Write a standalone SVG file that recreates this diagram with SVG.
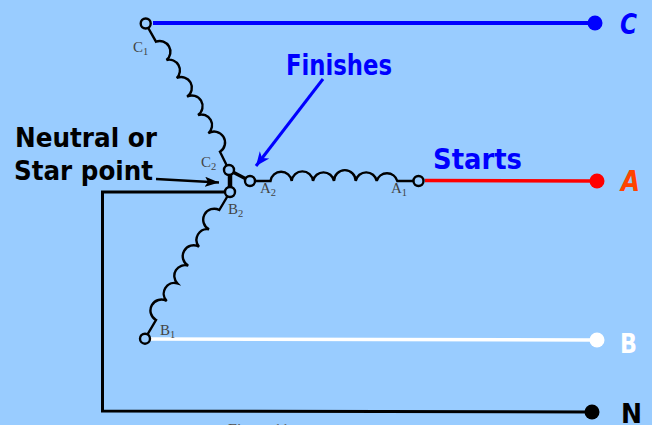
<svg xmlns="http://www.w3.org/2000/svg" width="652" height="425" viewBox="0 0 652 425">
<style>
.wire{fill:none;stroke:#000;stroke-width:2.4}
.thick{fill:none;stroke:#000;stroke-width:3.5}
.term{fill:#99ccff;stroke:#000;stroke-width:2.400}
.lab{font-family:"Liberation Serif",serif;font-size:15px;fill:#444}
.sub{font-size:10.500px}
.hand{font-family:"DejaVu Sans",sans-serif;font-weight:bold}
</style>
<defs>
<marker id="bh" markerUnits="userSpaceOnUse" markerWidth="16" markerHeight="14" refX="14" refY="7" orient="auto"><path d="M0,1L14,7L0,13L4,7Z" fill="#0000ff"/></marker>
<marker id="kh" markerUnits="userSpaceOnUse" markerWidth="16" markerHeight="10" refX="14" refY="5" orient="auto"><path d="M0,0L14,5L0,10L3,5Z" fill="#000"/></marker>
</defs>
<rect width="652" height="425" fill="#99ccff"/>
<g id="connectors">
<path d="M153,23H595" fill="none" stroke="#0000ff" stroke-width="4"/>
<path d="M425,180.500L597,181" fill="none" stroke="#ff0000" stroke-width="3.500"/>
<path d="M150,339L597,340" fill="none" stroke="#fff" stroke-width="3.500"/>
<path d="M225,192H102.500V411L592,412" class="thick" style="stroke-width:3"/>
<path d="M229,170L250,181" class="thick"/>
<path d="M230,170V192" class="thick" style="stroke-width:4.500"/>
<path d="M323,79L256,166" fill="none" stroke="#0000ff" stroke-width="3" marker-end="url(#bh)"/>
<path d="M156,179L219,182.500" fill="none" stroke="#000" stroke-width="2.500" marker-end="url(#kh)"/>
</g>
<g id="coil-c"><path class="wire" d="M146,24L156,41.700A10.700,10.700 0 0 1 166.500,60A10.700,10.700 0 0 1 176.700,78A10.700,10.700 0 0 1 187,96.700A10.700,10.700 0 0 1 198,115A10.700,10.700 0 0 1 208.300,133.300A10.700,10.700 0 0 1 220,151.700L229,170"/></g>
<g id="coil-a"><path class="wire" d="M250,181H270.500A10.700,10.700 0 0 1 291.700,181A10.700,10.700 0 0 1 313,181A10.700,10.700 0 0 1 334,181A10.700,10.700 0 0 1 355.700,181A10.700,10.700 0 0 1 376.700,181A10.700,10.700 0 0 1 397.300,181H418"/></g>
<g id="coil-b"><path class="wire" d="M230,192L219.300,210A10.700,10.700 0 0 0 209,229.300A10.700,10.700 0 0 0 199,246.700A10.700,10.700 0 0 0 188.300,265.700A10.700,10.700 0 0 0 177.300,283.300A10.700,10.700 0 0 0 166.700,301A10.700,10.700 0 0 0 156,320L145,338.700"/></g>
<g id="terminal-c1"><circle class="term" cx="145.700" cy="23.500" r="5"/><text class="lab" x="133" y="52">C<tspan class="sub" dy="2.500">1</tspan></text></g>
<g id="terminal-c2"><circle class="term" cx="229" cy="170" r="5"/><text class="lab" x="201" y="167">C<tspan class="sub" dy="2.500">2</tspan></text></g>
<g id="terminal-a2"><circle class="term" cx="250" cy="181" r="5"/><text class="lab" x="260" y="193">A<tspan class="sub" dy="2.500">2</tspan></text></g>
<g id="terminal-a1"><circle class="term" cx="418.500" cy="181" r="5"/><text class="lab" x="391" y="193">A<tspan class="sub" dy="2.500">1</tspan></text></g>
<g id="terminal-b2"><circle class="term" cx="230" cy="192" r="5"/><text class="lab" x="228" y="214">B<tspan class="sub" dy="2.500">2</tspan></text></g>
<g id="terminal-b1"><circle class="term" cx="145" cy="338.700" r="5"/><text class="lab" x="160" y="335">B<tspan class="sub" dy="2.500">1</tspan></text></g>
<g id="line-c"><circle cx="595" cy="23" r="7.500" fill="#0000ff"/><text class="hand" x="620" y="34" font-size="28" font-style="italic" fill="#0000ff" textLength="17" lengthAdjust="spacingAndGlyphs">C</text></g>
<g id="line-a"><circle cx="597" cy="181" r="7.500" fill="#ff0000"/><text class="hand" x="621" y="191" font-size="29" font-style="italic" fill="#ff4400" textLength="19" lengthAdjust="spacingAndGlyphs">A</text></g>
<g id="line-b"><circle cx="597" cy="340" r="7.500" fill="#fff"/><text class="hand" x="620" y="353" font-size="27" fill="#fff" textLength="17" lengthAdjust="spacingAndGlyphs">B</text></g>
<g id="line-n"><circle cx="592" cy="412" r="7.500" fill="#000"/><text class="hand" x="621" y="422.500" font-size="27" fill="#000" textLength="21" lengthAdjust="spacingAndGlyphs">N</text></g>
<g id="label-neutral"><text class="hand" font-size="27" x="15" y="147" textLength="142" lengthAdjust="spacingAndGlyphs">Neutral or</text><text class="hand" font-size="27" x="14" y="180" textLength="139" lengthAdjust="spacingAndGlyphs">Star point</text></g>
<g id="label-finishes"><text class="hand" font-size="28" x="286" y="74.500" textLength="106" lengthAdjust="spacingAndGlyphs" fill="#0000ff">Finishes</text></g>
<g id="label-starts"><text class="hand" font-size="28" x="433" y="168.500" textLength="89" lengthAdjust="spacingAndGlyphs" fill="#0000ff">Starts</text></g>
<text x="228" y="435" font-family="Liberation Serif,serif" font-size="16" fill="#555">Figure 11</text>
</svg>
